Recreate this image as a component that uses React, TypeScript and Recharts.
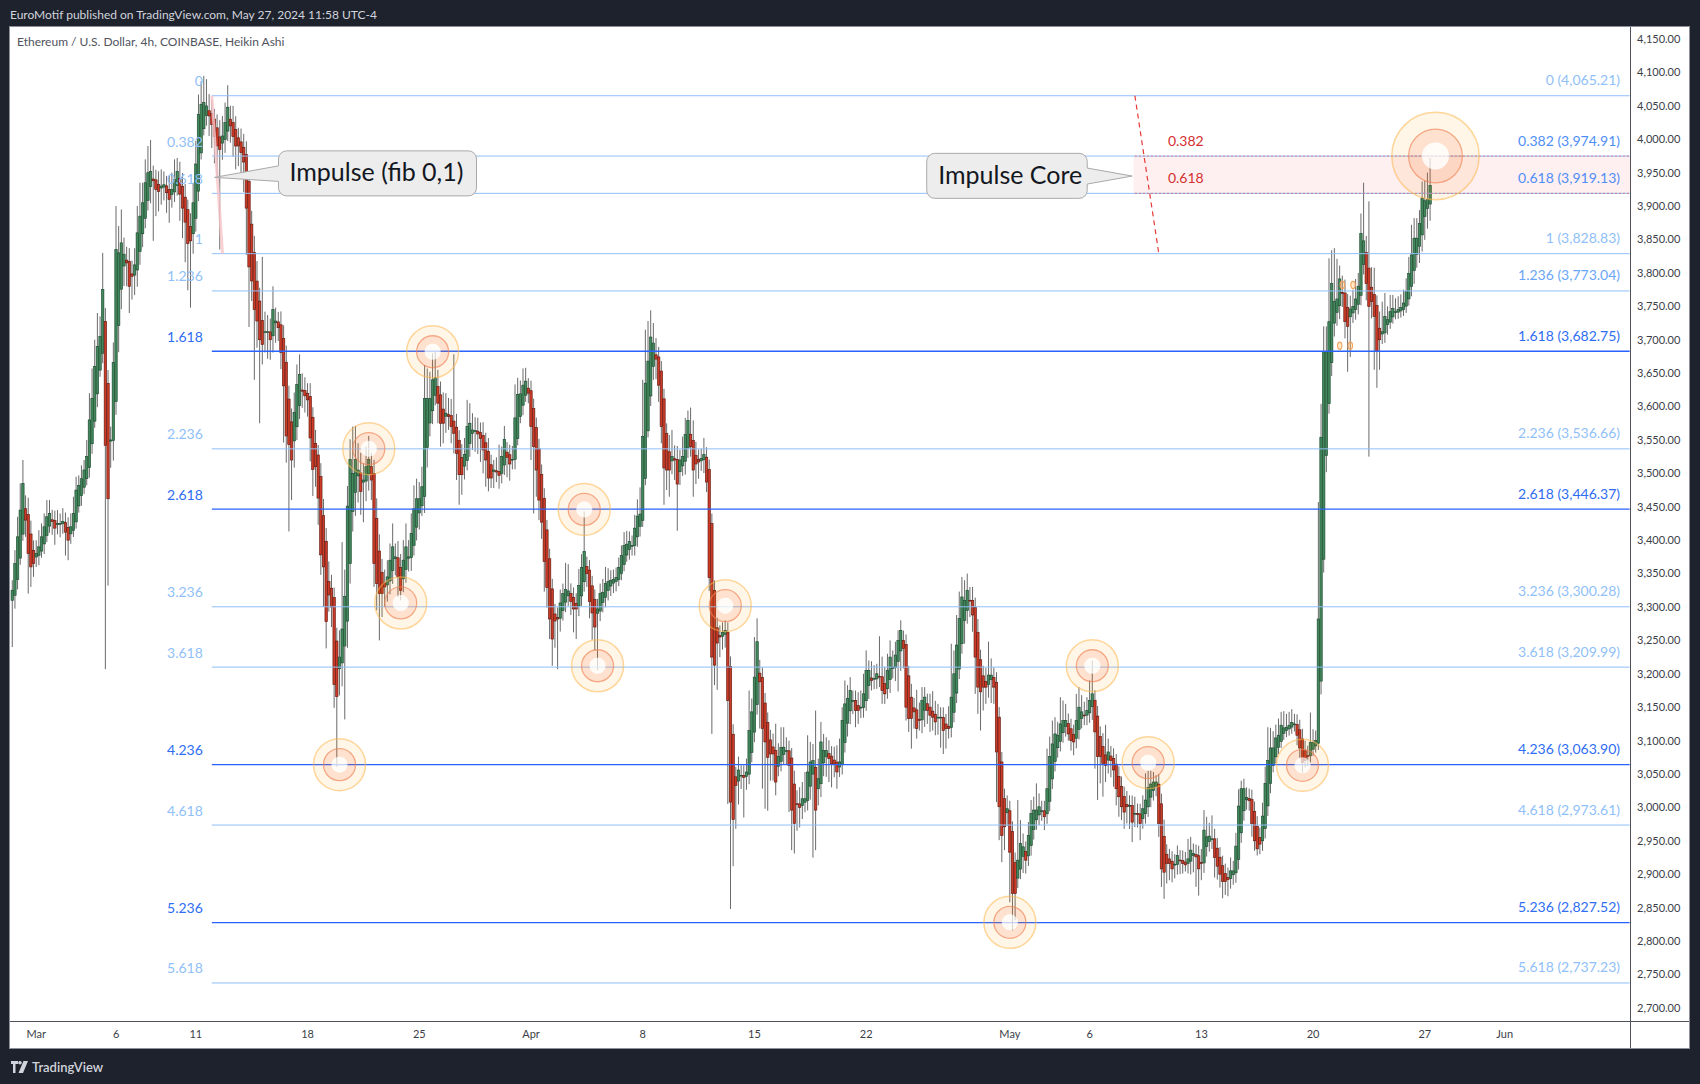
import React from "react";
import {
  ComposedChart,
  Bar,
  XAxis,
  YAxis,
  ReferenceLine,
  ReferenceArea,
  ReferenceDot,
} from "recharts";

// Heikin Ashi 4h closes (Feb 27 12:00 -> May 27 08:00)
const closesFebMar = [
  3325, 3365, 3405, 3445, 3485, 3430, 3380, 3360, 3365, 3380,
  3390, 3405, 3420, 3435, 3440, 3428, 3418, 3425, 3425, 3428,
  3412, 3400, 3420, 3440, 3475, 3482, 3492, 3505, 3525, 3580,
  3612, 3660, 3690, 3705, 3775, 3542, 3462, 3550, 3666, 3835,
  3830, 3845, 3828, 3815, 3780, 3795, 3812, 3860, 3885, 3905,
  3935, 3950, 3952, 3938, 3925, 3922, 3930, 3932, 3920, 3910,
  3925, 3940, 3952, 3918, 3897, 3876, 3844, 3848, 3905, 3963,
  4037, 4052, 4055, 4050, 4035, 4022, 4004, 3990, 3985, 4005,
  4025, 4048, 4020, 4004, 3990, 3990, 3980, 3966, 3897, 3809,
];
const closesMar = [
  3788, 3745, 3728, 3700, 3693, 3712, 3712, 3700, 3745, 3728,
  3718, 3681, 3631, 3556, 3543, 3520, 3591, 3633, 3648, 3623,
  3616, 3610, 3553, 3506, 3510, 3463, 3378, 3360, 3278, 3318,
  3300, 3184, 3166, 3225, 3267, 3316, 3451, 3521, 3500, 3521,
  3505, 3473, 3490, 3510, 3521, 3490, 3365, 3335, 3320, 3320,
  3330, 3345, 3370, 3390, 3375, 3345, 3325, 3370, 3390, 3375,
  3410, 3447, 3462, 3462, 3480, 3612, 3612, 3612, 3640, 3643,
  3605, 3575, 3575, 3590, 3585, 3570, 3560, 3530, 3498, 3498,
  3528, 3570, 3575, 3565, 3564, 3559, 3552, 3535, 3520, 3493,
];
const closesEarlyApr = [
  3493, 3505, 3502, 3497, 3525, 3551, 3524, 3514, 3521, 3583,
  3618, 3619, 3632, 3638, 3620, 3570, 3540, 3505, 3460, 3427,
  3368, 3329, 3282, 3252, 3279, 3282, 3306, 3320, 3326, 3324,
  3308, 3297, 3297, 3332, 3359, 3383, 3350, 3308, 3291, 3270,
  3297, 3320, 3322, 3335, 3338, 3340, 3341, 3344, 3359, 3377,
  3392, 3394, 3398, 3392, 3418, 3436, 3439, 3555, 3635, 3668,
  3704, 3695, 3671, 3632, 3570, 3508, 3505, 3505, 3525, 3520,
  3484, 3520, 3525, 3558, 3579, 3540, 3505, 3514, 3517, 3522,
  3528, 3487, 3344, 3225, 3213, 3246, 3255, 3262, 3265, 3160,
  3008, 2982,
];
const closesLateApr = [
  3033, 3056, 3048, 3045, 3053, 3115, 3143, 3195, 3248, 3188,
  3118, 3098, 3075, 3080, 3080, 3038, 3076, 3090, 3090, 3085,
  3063, 2996, 2976, 3005, 3000, 3013, 3013, 3053, 3068, 3070,
  2996, 3043, 3098, 3085, 3085, 3073, 3065, 3065, 3053, 3068,
  3130, 3155, 3163, 3175, 3160, 3145, 3145, 3150, 3170, 3205,
  3205, 3190, 3193, 3200, 3195, 3175, 3170, 3205, 3225, 3210,
  3228, 3250, 3265, 3238, 3150, 3133, 3133, 3143, 3118, 3130,
  3160, 3165, 3145, 3138, 3135, 3128, 3135, 3135, 3115, 3118,
  3118, 3165, 3200, 3243, 3283, 3315, 3310, 3325, 3310, 3288,
];
const closesEarlyMay = [
  3225, 3180, 3173, 3180, 3180, 3198, 3198, 3180, 3083, 3001,
  2958, 2971, 2998, 2933, 2871, 2871, 2921, 2946, 2941, 2921,
  2958, 2991, 2996, 2996, 3001, 2995, 2986, 3028, 3076, 3095,
  3110, 3108, 3125, 3130, 3130, 3110, 3100, 3098, 3130, 3150,
  3143, 3138, 3145, 3160, 3170, 3113, 3076, 3076, 3066, 3063,
  3083, 3070, 3056, 3028, 3016, 3001, 2993, 3001, 3003, 2978,
  2991, 2990, 2976, 2998, 3011, 3030, 3035, 3038, 3038, 2976,
  2908, 2903, 2916, 2916, 2908, 2915, 2928, 2920, 2916, 2914,
  2923, 2936, 2931, 2926, 2908, 2916, 2966, 2956,
];
const closesLateMay = [
  2957, 2953, 2925, 2912, 2900, 2889, 2889, 2892, 2905, 2905,
  2942, 3002, 3028, 3028, 3015, 3010, 2976, 2950, 2938, 2945,
  2987, 3036, 3070, 3089, 3089, 3104, 3108, 3123, 3119, 3120,
  3123, 3127, 3125, 3108, 3089, 3067, 3070, 3077, 3097, 3097,
  3100, 3282, 3554, 3682, 3682, 3727, 3784, 3757, 3761, 3791,
  3769, 3727, 3720, 3746, 3750, 3761, 3780, 3859, 3848, 3784,
  3750, 3757, 3735, 3683, 3700, 3712, 3735, 3730, 3742, 3747,
  3742, 3745, 3748, 3755, 3772, 3799, 3827, 3852, 3852, 3874,
  3912, 3908, 3910, 3931,
];

// wick lengths above the body / below the body, in dollars
const upperFebMar = [
  15, 20, 30, 40, 35, 20, 25, 20, 15, 20, 25, 20, 20, 25, 20, 15, 15, 20, 15, 20,
  15, 15, 20, 25, 20, 15, 20, 15, 25, 40, 45, 40, 50, 30, 55, 20, 20, 20, 30, 65,
  40, 50, 25, 20, 20, 20, 25, 40, 50, 30, 35, 40, 47, 20, 15, 20, 25, 20, 15, 20,
  25, 30, 20, 25, 20, 20, 15, 20, 30, 35, 30, 35, 40, 40, 25, 20, 15, 20, 25, 30,
  30, 33, 20, 25, 20, 15, 20, 20, 20, 15,
];
const lowerFebMar = [
  70, 20, 15, 10, 10, 25, 60, 30, 20, 15, 15, 10, 15, 10, 10, 20, 25, 15, 20, 15,
  35, 30, 15, 10, 10, 10, 15, 10, 10, 15, 15, 10, 20, 10, 15, 335, 130, 40, 30, 20,
  40, 30, 30, 35, 40, 35, 30, 25, 20, 20, 15, 15, 25, 90, 40, 30, 25, 20, 30, 35,
  20, 15, 15, 40, 45, 60, 70, 100, 30, 20, 15, 10, 10, 15, 30, 35, 40, 45, 150, 25,
  20, 15, 25, 30, 35, 30, 35, 45, 70, 90,
];
const upperMar = [
  20, 25, 30, 20, 95, 30, 25, 20, 35, 20, 15, 20, 20, 25, 20, 20, 30, 30, 30, 25,
  20, 15, 20, 15, 20, 15, 20, 25, 20, 30, 20, 15, 20, 40, 130, 40, 30, 30, 70, 50,
  40, 30, 25, 30, 35, 20, 20, 30, 25, 20, 20, 25, 25, 35, 20, 25, 20, 30, 35, 25,
  30, 35, 30, 25, 30, 50, 45, 40, 40, 40, 25, 20, 25, 30, 25, 25, 100, 20, 15, 20,
  25, 40, 30, 25, 20, 20, 15, 20, 15, 20,
];
const lowerMar = [
  30, 105, 40, 125, 30, 30, 40, 30, 25, 30, 20, 25, 85, 40, 130, 60, 40, 20, 20, 25,
  25, 25, 35, 40, 30, 40, 30, 60, 40, 25, 30, 35, 105, 40, 35, 110, 40, 30, 30, 35,
  40, 35, 60, 30, 25, 30, 35, 40, 70, 35, 30, 25, 20, 20, 25, 30, 15, 20, 20, 20,
  20, 15, 20, 25, 15, 25, 30, 20, 20, 15, 30, 35, 30, 25, 20, 25, 30, 40, 45, 30,
  20, 15, 20, 25, 30, 30, 35, 35, 40, 20,
];
const upperEarlyApr = [
  15, 15, 20, 40, 15, 20, 15, 15, 20, 50, 25, 20, 25, 20, 15, 15, 15, 15, 15, 15,
  15, 15, 15, 15, 15, 15, 20, 15, 40, 40, 15, 15, 15, 25, 20, 60, 15, 15, 15, 15,
  15, 15, 20, 25, 20, 15, 15, 15, 15, 15, 20, 20, 15, 15, 20, 25, 40, 85, 80, 60,
  40, 30, 25, 15, 15, 15, 15, 25, 40, 20, 20, 15, 30, 25, 15, 40, 30, 20, 15, 15,
  25, 15, 15, 15, 15, 15, 15, 15, 15, 15, 15, 15,
];
const lowerEarlyApr = [
  15, 25, 15, 20, 15, 15, 30, 25, 15, 15, 10, 10, 15, 10, 15, 50, 100, 40, 30, 25,
  45, 30, 30, 40, 40, 75, 20, 15, 15, 15, 20, 35, 45, 15, 15, 15, 20, 25, 40, 35,
  85, 15, 15, 15, 15, 15, 15, 15, 10, 10, 10, 10, 15, 15, 15, 15, 15, 10, 10, 10,
  15, 20, 30, 25, 25, 55, 30, 40, 20, 30, 70, 20, 15, 20, 15, 15, 40, 30, 25, 15,
  20, 15, 20, 115, 30, 70, 30, 20, 20, 155, 160, 70,
];
const upperLateApr = [
  15, 20, 15, 15, 20, 60, 20, 60, 35, 20, 15, 15, 15, 15, 20, 40, 20, 30, 30, 20,
  15, 15, 20, 20, 25, 25, 40, 55, 30, 25, 85, 30, 30, 25, 20, 20, 15, 20, 25, 35,
  20, 35, 20, 20, 15, 15, 20, 25, 30, 30, 15, 25, 20, 15, 60, 30, 25, 25, 25, 25,
  20, 15, 15, 15, 15, 15, 20, 15, 30, 25, 20, 15, 15, 20, 30, 20, 20, 15, 15, 15,
  30, 80, 35, 45, 40, 30, 30, 25, 20, 20,
];
const lowerLateApr = [
  65, 35, 20, 60, 20, 15, 15, 15, 15, 70, 90, 100, 80, 40, 40, 20, 15, 15, 15, 20,
  70, 60, 45, 40, 30, 20, 15, 15, 20, 125, 60, 25, 20, 20, 30, 35, 35, 20, 25, 15,
  15, 15, 20, 20, 20, 25, 20, 15, 15, 15, 20, 15, 15, 15, 15, 20, 15, 15, 20, 15,
  20, 45, 30, 30, 20, 20, 45, 25, 15, 15, 20, 25, 20, 25, 20, 20, 25, 45, 35, 30,
  15, 15, 15, 15, 15, 15, 35, 20, 25, 25,
];
const upperEarlyMay = [
  15, 20, 15, 15, 20, 50, 25, 15, 15, 15, 15, 15, 20, 15, 15, 15, 90, 35, 20, 15,
  20, 20, 20, 40, 20, 15, 15, 60, 30, 35, 25, 20, 40, 30, 25, 15, 15, 15, 40, 30,
  25, 20, 20, 30, 50, 15, 15, 15, 20, 45, 20, 15, 15, 15, 15, 15, 15, 20, 15, 15,
  25, 15, 15, 20, 40, 25, 20, 15, 10, 15, 15, 25, 15, 15, 15, 15, 15, 15, 15, 15,
  30, 20, 15, 15, 15, 20, 30, 30,
];
const lowerEarlyMay = [
  55, 40, 58, 35, 25, 20, 35, 25, 75, 50, 40, 35, 20, 75, 55, 40, 15, 15, 25, 20,
  15, 15, 15, 15, 15, 15, 20, 15, 15, 15, 15, 15, 15, 15, 15, 10, 15, 20, 15, 15,
  15, 15, 15, 15, 20, 55, 65, 40, 50, 25, 20, 25, 25, 25, 30, 20, 25, 25, 35, 30,
  20, 20, 25, 15, 15, 15, 15, 15, 15, 20, 27, 40, 30, 25, 20, 20, 15, 20, 15, 10,
  15, 20, 25, 45, 40, 25, 15, 15,
];
const upperLateMay = [
  20, 35, 15, 15, 15, 15, 15, 15, 20, 15, 20, 25, 12, 15, 15, 15, 15, 15, 15, 15,
  20, 25, 50, 30, 25, 20, 25, 20, 25, 20, 20, 20, 15, 15, 15, 15, 15, 15, 45, 20,
  15, 175, 50, 38, 38, 95, 50, 80, 60, 20, 25, 20, 20, 20, 25, 30, 20, 30, 87, 25,
  100, 30, 40, 15, 25, 45, 35, 20, 25, 20, 20, 20, 20, 20, 20, 25, 45, 30, 30, 20,
  25, 30, 40, 41,
];
const lowerLateMay = [
  15, 15, 30, 20, 20, 25, 20, 25, 15, 15, 15, 15, 15, 15, 15, 15, 20, 15, 10, 15,
  15, 15, 15, 15, 10, 10, 10, 10, 10, 10, 10, 10, 10, 15, 15, 15, 10, 15, 10, 10,
  10, 10, 20, 20, 25, 15, 20, 20, 20, 20, 20, 25, 68, 60, 15, 15, 15, 15, 15, 25,
  225, 25, 80, 55, 45, 15, 15, 15, 10, 10, 10, 10, 10, 10, 10, 10, 15, 20, 20, 25,
  25, 35, 30, 25,
];

const firstOpen = 3310;
const slotCount = 609; // candles plus empty 4h slots up to ~Jun 8

const dateTicks = [9, 39, 69, 111, 153, 195, 237, 279, 321, 375, 405, 447, 489, 531, 561];
const dateLabels = ["Mar", "6", "11", "18", "25", "Apr", "8", "15", "22", "May", "6", "13", "20", "27", "Jun"];

const priceTicks = [
  2700, 2750, 2800, 2850, 2900, 2950, 3000, 3050, 3100, 3150, 3200, 3250, 3300, 3350, 3400,
  3450, 3500, 3550, 3600, 3650, 3700, 3750, 3800, 3850, 3900, 3950, 4000, 4050, 4100, 4150,
];

const fibRatios = ["0", "0.382", "0.618", "1", "1.236", "1.618", "2.236", "2.618", "3.236", "3.618", "4.236", "4.618", "5.236", "5.618"];
const fibPrices = [4065.21, 3974.91, 3919.13, 3828.83, 3773.04, 3682.75, 3536.66, 3446.37, 3300.28, 3209.99, 3063.9, 2973.61, 2827.52, 2737.23];

const targetSlots = [123, 134, 146, 158, 215, 220, 268, 375, 406, 427, 485, 535];
const targetPrices = [3064, 3537, 3306, 3682, 3446, 3212, 3302, 2828, 3212, 3067, 3063, 3975];

const markerSlots = [499, 500, 503, 504];
const markerPrices = [3691, 3782, 3691, 3782];

const closes = [...closesFebMar, ...closesMar, ...closesEarlyApr, ...closesLateApr, ...closesEarlyMay, ...closesLateMay];
const upperWicks = [...upperFebMar, ...upperMar, ...upperEarlyApr, ...upperLateApr, ...upperEarlyMay, ...upperLateMay];
const lowerWicks = [...lowerFebMar, ...lowerMar, ...lowerEarlyApr, ...lowerLateApr, ...lowerEarlyMay, ...lowerLateMay];

// Heikin Ashi: each open is the midpoint of the previous body
const rows: any[] = [];
{
  let o = firstOpen;
  for (let i = 0; i < slotCount; i++) {
    if (i < closes.length) {
      const c = closes[i];
      const h = Math.max(o, c) + upperWicks[i];
      const l = Math.min(o, c) - lowerWicks[i];
      rows.push({ i, o, h, l, c, range: [l, h] });
      o = (o + c) / 2;
    } else {
      rows.push({ i, range: null });
    }
  }
}

const FONT = "Lato, 'Noto Sans', sans-serif";
const LIGHT = "#90bff9";
const DARK = "#2f6df2";
const strongLevels = [5, 7, 10, 12];
const rightColors: Record<number, string> = { 1: "#4f8ef6", 2: "#4f8ef6", 4: "#6aa6f8" };

function Candle(props: any) {
  const { x, y, width, height, payload } = props;
  if (!payload || payload.c == null || !height) return null;
  const cx = x + width / 2;
  const top = Math.min(y, y + height);
  const h = Math.abs(height);
  const toY = (p: number) => top + ((payload.h - p) / (payload.h - payload.l)) * h;
  const up = payload.c >= payload.o;
  const bTop = toY(Math.max(payload.o, payload.c));
  const bBot = toY(Math.min(payload.o, payload.c));
  return (
    <g>
      <line x1={cx} x2={cx} y1={top} y2={top + h} stroke="#6a6a6a" strokeWidth={1} />
      <rect
        x={cx - 1.2}
        y={bTop}
        width={2.4}
        height={Math.max(0.8, bBot - bTop)}
        fill={up ? "#43875c" : "#cc3b27"}
        stroke={up ? "#1c4a2f" : "#621a10"}
        strokeWidth={0.65}
      />
    </g>
  );
}

function Target({ cx, cy, big }: { cx: number; cy: number; big?: boolean }) {
  const k = big ? 1.68 : 1;
  return (
    <g>
      <circle cx={cx} cy={cy} r={26 * k} fill="#ff9800" fillOpacity={0.09} stroke="#ffb74d" strokeOpacity={0.55} strokeWidth={1.5} />
      <circle cx={cx} cy={cy} r={12 * k} fill="none" stroke="#f4511e" strokeOpacity={0.12} strokeWidth={8 * k} />
      <circle cx={cx} cy={cy} r={16 * k} fill="none" stroke="#ef8354" strokeOpacity={0.65} strokeWidth={1.3} />
      <circle cx={cx} cy={cy} r={8 * k} fill="#ffffff" fillOpacity={0.7} />
    </g>
  );
}

function calloutPath(bx1: number, by1: number, bx2: number, by2: number, r: number, side: "left" | "right", tx: number, ty: number, pa: number, pb: number) {
  if (side === "left") {
    return `M${bx1 + r},${by1} H${bx2 - r} A${r},${r} 0 0 1 ${bx2},${by1 + r} V${by2 - r} A${r},${r} 0 0 1 ${bx2 - r},${by2} H${bx1 + r} A${r},${r} 0 0 1 ${bx1},${by2 - r} V${pb} L${tx},${ty} L${bx1},${pa} V${by1 + r} A${r},${r} 0 0 1 ${bx1 + r},${by1} Z`;
  }
  return `M${bx1 + r},${by1} H${bx2 - r} A${r},${r} 0 0 1 ${bx2},${by1 + r} V${pa} L${tx},${ty} L${bx2},${pb} V${by2 - r} A${r},${r} 0 0 1 ${bx2 - r},${by2} H${bx1 + r} A${r},${r} 0 0 1 ${bx1},${by2 - r} V${by1 + r} A${r},${r} 0 0 1 ${bx1 + r},${by1} Z`;
}

function ImpulseCallout(props: any) {
  const { cx, cy } = props;
  const d = calloutPath(cx + 64, cy - 26.5, cx + 262, cy + 18.5, 8, "left", cx, cy, cy - 11.5, cy + 4);
  return (
    <g>
      <path d={d} fill="#ededed" stroke="#a9a9a9" strokeWidth={1} />
      <text x={cx + 75} y={cy + 3.5} fontSize={25} fill="#131722" fontFamily={FONT}>
        Impulse (fib 0,1)
      </text>
    </g>
  );
}

function CoreCallout(props: any) {
  const { cx, cy } = props;
  const d = calloutPath(cx - 205.5, cy - 22.7, cx - 45, cy + 22.3, 8, "right", cx, cy, cy - 8, cy + 8);
  return (
    <g>
      <path d={d} fill="#ededed" stroke="#a9a9a9" strokeWidth={1} />
      <text x={cx - 194} y={cy + 7.5} fontSize={25} fill="#131722" fontFamily={FONT}>
        Impulse Core
      </text>
    </g>
  );
}

const fmtPrice = (v: number) => v.toLocaleString("en-US", { minimumFractionDigits: 2, maximumFractionDigits: 2 });

export default function App() {
  const fibStart = 75;
  const lastSlot = slotCount - 1;
  return (
    <div
      style={{
        position: "absolute",
        left: 0,
        top: 0,
        width: 1700,
        height: 1084,
        background: "#1e222d",
        fontFamily: FONT,
        overflow: "hidden",
      }}
    >
      <div style={{ position: "absolute", left: 10, top: 8, fontSize: 12, lineHeight: "14px", color: "#d1d4dc" }}>
        EuroMotif published on TradingView.com, May 27, 2024 11:58 UTC-4
      </div>
      <div
        style={{
          position: "absolute",
          left: 9,
          top: 26,
          width: 1681,
          height: 1023,
          background: "#ffffff",
          border: "1px solid #8d909a",
          boxSizing: "border-box",
        }}
      />
      <div style={{ position: "absolute", left: 1630, top: 27, width: 1, height: 1021, background: "#50535e" }} />
      <div style={{ position: "absolute", left: 10, top: 1021, width: 1679, height: 1, background: "#50535e" }} />
      <div style={{ position: "absolute", left: 17, top: 35, fontSize: 12, lineHeight: "14px", color: "#50535e" }}>
        Ethereum / U.S. Dollar, 4h, COINBASE, Heikin Ashi
      </div>

      <div style={{ position: "absolute", left: 0, top: 0 }}>
        <ComposedChart
          width={1700}
          height={1084}
          data={rows}
          margin={{ top: 27, right: 11, bottom: 36, left: 9 }}
        >
          <XAxis
            dataKey="i"
            type="category"
            height={26}
            ticks={dateTicks}
            interval={0}
            padding={{ left: 2, right: 0 }}
            tickFormatter={(v: number) => dateLabels[dateTicks.indexOf(v)] ?? ""}
            axisLine={false}
            tickLine={false}
            tickSize={3}
            tickMargin={5}
            tick={{ fontSize: 11, fill: "#3b3e48", fontFamily: FONT }}
          />
          <YAxis
            orientation="right"
            type="number"
            width={58}
            domain={[2678.8, 4168.1]}
            allowDataOverflow
            ticks={priceTicks}
            interval={0}
            tickFormatter={fmtPrice}
            axisLine={false}
            tickLine={false}
            tickSize={4}
            tickMargin={2}
            tick={{ fontSize: 11, fill: "#3b3e48", fontFamily: FONT }}
          />

          <ReferenceArea x1={422} x2={lastSlot} y1={3919.13} y2={3974.91} fill="#f23645" fillOpacity={0.08} stroke="none" />

          {fibPrices.map((p, k) => {
            const strong = strongLevels.includes(k);
            return (
              <ReferenceLine
                key={"fib" + k}
                segment={[{ x: fibStart, y: p }, { x: lastSlot, y: p }]}
                stroke={strong ? "#2962ff" : LIGHT}
                strokeWidth={strong ? 1.3 : 1}
              />
            );
          })}
          <ReferenceLine segment={[{ x: 422, y: 3974.91 }, { x: lastSlot, y: 3974.91 }]} stroke="#e0403f" strokeOpacity={0.6} strokeDasharray="2 2" />
          <ReferenceLine segment={[{ x: 422, y: 3919.13 }, { x: lastSlot, y: 3919.13 }]} stroke="#e0403f" strokeOpacity={0.6} strokeDasharray="2 2" />
          <ReferenceLine segment={[{ x: 75, y: 4065.21 }, { x: 79, y: 3828.83 }]} stroke="#f7c4c8" strokeOpacity={0.8} strokeWidth={3} />
          <ReferenceLine segment={[{ x: 422, y: 4065.21 }, { x: 431, y: 3828.83 }]} stroke="#e53935" strokeWidth={1.2} strokeDasharray="5 4" />

          <Bar dataKey="range" isAnimationActive={false} shape={<Candle />} />

          {fibPrices.map((p, k) => {
            const strong = strongLevels.includes(k);
            return (
              <ReferenceDot
                key={"ll" + k}
                x={fibStart}
                y={p}
                shape={(s: any) => (
                  <text x={s.cx - 9} y={s.cy - 9.5} textAnchor="end" fontSize={14} fill={strong ? DARK : LIGHT} fontFamily={FONT}>
                    {fibRatios[k]}
                  </text>
                )}
              />
            );
          })}
          {fibPrices.map((p, k) => {
            const strong = strongLevels.includes(k);
            return (
              <ReferenceDot
                key={"rl" + k}
                x={lastSlot}
                y={p}
                shape={(s: any) => (
                  <text x={s.cx - 9.6} y={s.cy - 10.5} textAnchor="end" fontSize={14} fill={strong ? DARK : rightColors[k] ?? LIGHT} fontFamily={FONT}>
                    {`${fibRatios[k]} (${fmtPrice(p)})`}
                  </text>
                )}
              />
            );
          })}
          {[1, 2].map((k) => (
            <ReferenceDot
              key={"core" + k}
              x={422}
              y={fibPrices[k]}
              shape={(s: any) => (
                <text x={s.cx + 33} y={s.cy - 10} fontSize={14} fill="#d32f2f" fontFamily={FONT}>
                  {fibRatios[k]}
                </text>
              )}
            />
          ))}

          {targetSlots.map((t, k) => (
            <ReferenceDot
              key={"tg" + k}
              x={t}
              y={targetPrices[k]}
              ifOverflow="visible"
              shape={(s: any) => <Target cx={s.cx} cy={s.cy} big={k === targetSlots.length - 1} />}
            />
          ))}
          {markerSlots.map((t, k) => (
            <ReferenceDot
              key={"mk" + k}
              x={t}
              y={markerPrices[k]}
              shape={(s: any) => (
                <ellipse cx={s.cx} cy={s.cy} rx={2.2} ry={3.6} fill="#ffb74d" fillOpacity={0.3} stroke="#f5a25d" strokeWidth={1.1} />
              )}
            />
          ))}

          <ReferenceDot x={76} y={3943} shape={(s: any) => <ImpulseCallout cx={s.cx} cy={s.cy} />} />
          <ReferenceDot x={421} y={3945} shape={(s: any) => <CoreCallout cx={s.cx} cy={s.cy} />} />
        </ComposedChart>
      </div>

      <div style={{ position: "absolute", left: 11, top: 1059, height: 16, display: "flex", alignItems: "center" }}>
        <svg width={18} height={12} viewBox="0 0 18 12">
          <path d="M0 0 H7 V3 H4.5 V12 H2 V3 H0 Z" fill="#d1d4dc" />
          <circle cx={9} cy={1.8} r={1.8} fill="#d1d4dc" />
          <path d="M12.5 0 H17 L12 12 H7.5 Z" fill="#d1d4dc" />
        </svg>
        <span style={{ marginLeft: 3, fontSize: 13, color: "#d1d4dc", fontWeight: 600 }}>TradingView</span>
      </div>
    </div>
  );
}
